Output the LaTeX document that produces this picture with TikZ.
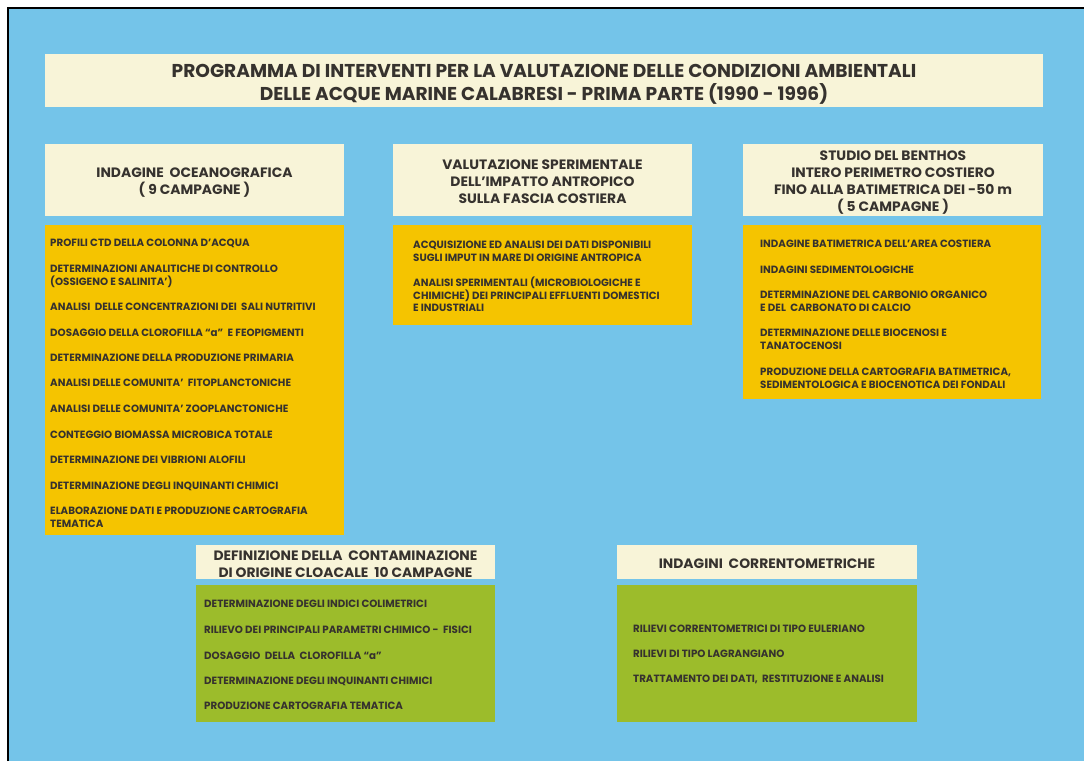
\documentclass[tikz,border=0pt]{standalone}
\usepackage{fontspec}
\setmainfont{Poppins}
\newfontfamily\itemfont{Poppins}[FakeStretch=0.98]
\newfontfamily\headfont{Poppins}[FakeStretch=1.02]
\definecolor{sea}{HTML}{74C4E9}
\definecolor{cream}{HTML}{F8F4D8}
\definecolor{gold}{HTML}{F5C400}
\definecolor{leaf}{HTML}{9CBC2B}
\definecolor{ink}{HTML}{36322E}
\tikzset{
  panel/.style={draw=none, inner sep=0pt, outer sep=0pt, anchor=north west},
  ttl/.style={text=ink, align=center, font=\bfseries\fontsize{18.6}{23}\selectfont},
  hdr/.style={text=ink, align=center, font=\headfont\bfseries\fontsize{13.6}{17}\selectfont},
  item/.style={anchor=base west, inner sep=0pt, yshift=-1pt, text=ink, align=left, font=\itemfont\bfseries\fontsize{10.5}{12.5}\selectfont},
}
\begin{document}
\begin{tikzpicture}[x=1pt,y=-1pt]
\useasboundingbox (0,0) rectangle (1084,761);
\fill[white] (0,0) rectangle (1084,761);
\fill[sea] (8,7.5) rectangle (1084,761);
\draw[black, line width=2.2pt] (8.1,761) -- (8.1,7.6) -- (1084,7.6);

% title
\node[panel, fill=cream, minimum width=998, minimum height=53] (title) at (45,54) {};
\node[ttl] (titletext) at ([yshift=-3.5]title.center) {PROGRAMMA DI INTERVENTI PER LA VALUTAZIONE DELLE CONDIZIONI AMBIENTALI\\DELLE ACQUE MARINE CALABRESI - PRIMA PARTE (1990 - 1996)};

% column 1
\node[panel, fill=cream, minimum width=299, minimum height=72] (h1) at (45,144) {};
\node[hdr] (h1t) at ([yshift=-2.5]h1.center) {INDAGINE \ OCEANOGRAFICA\\( 9 CAMPAGNE )};
\node[panel, fill=gold, minimum width=299, minimum height=310] (b1) at (45,225) {};
\node[item] (a1) at (50,245.5) {PROFILI CTD DELLA COLONNA D’ACQUA};
\node[item] (a2) at (50,284) {DETERMINAZIONI ANALITICHE DI CONTROLLO\\(OSSIGENO E SALINITA’)};
\node[item] (a3) at (50,309.5) {ANALISI \ DELLE CONCENTRAZIONI DEI \ SALI NUTRITIVI};
\node[item] (a4) at (50,335.5) {DOSAGGIO DELLA CLOROFILLA “a” \ E FEOPIGMENTI};
\node[item] (a5) at (50,360.5) {DETERMINAZIONE DELLA PRODUZIONE PRIMARIA};
\node[item] (a6) at (50,385.5) {ANALISI DELLE COMUNITA’ \ FITOPLANCTONICHE};
\node[item] (a7) at (50,411.5) {ANALISI DELLE COMUNITA’ ZOOPLANCTONICHE};
\node[item] (a8) at (50,437.5) {CONTEGGIO BIOMASSA MICROBICA TOTALE};
\node[item] (a9) at (50,462.5) {DETERMINAZIONE DEI VIBRIONI ALOFILI};
\node[item] (a10) at (50,488.5) {DETERMINAZIONE DEGLI INQUINANTI CHIMICI};
\node[item] (a11) at (50,526) {ELABORAZIONE DATI E PRODUZIONE CARTOGRAFIA\\TEMATICA};

% column 2
\node[panel, fill=cream, minimum width=299, minimum height=72] (h2) at (393,144) {};
\node[hdr] (h2t) at ([yshift=-1.5]h2.center) {VALUTAZIONE SPERIMENTALE\\DELL’IMPATTO ANTROPICO\\SULLA FASCIA COSTIERA};
\node[panel, fill=gold, minimum width=299, minimum height=100] (b2) at (393,225) {};
\node[item] (c1) at (413,260) {ACQUISIZIONE ED ANALISI DEI DATI DISPONIBILI\\SUGLI IMPUT IN MARE DI ORIGINE ANTROPICA};
\node[item] (c2) at (413,310.5) {ANALISI SPERIMENTALI (MICROBIOLOGICHE E\\CHIMICHE) DEI PRINCIPALI EFFLUENTI DOMESTICI\\E INDUSTRIALI};

% column 3
\node[panel, fill=cream, minimum width=300, minimum height=72] (h3) at (743,144) {};
\node[hdr] (h3t) at ([yshift=-2.5]h3.center) {STUDIO DEL BENTHOS\\INTERO PERIMETRO COSTIERO\\FINO ALLA BATIMETRICA DEI -50 m\\( 5 CAMPAGNE )};
\node[panel, fill=gold, minimum width=298, minimum height=174] (b3) at (743,225) {};
\node[item] (d1) at (760,246.5) {INDAGINE BATIMETRICA DELL’AREA COSTIERA};
\node[item] (d2) at (760,272.5) {INDAGINI SEDIMENTOLOGICHE};
\node[item] (d3) at (760,310) {DETERMINAZIONE DEL CARBONIO ORGANICO\\E DEL \ CARBONATO DI CALCIO};
\node[item] (d4) at (760,348) {DETERMINAZIONE DELLE BIOCENOSI E\\TANATOCENOSI};
\node[item] (d5) at (760,387) {PRODUZIONE DELLA CARTOGRAFIA BATIMETRICA,\\SEDIMENTOLOGICA E BIOCENOTICA DEI FONDALI};

% lower left
\node[panel, fill=cream, minimum width=299, minimum height=34] (h4) at (196,545) {};
\node[hdr] (h4t) at ([yshift=-2]h4.center) {DEFINIZIONE DELLA \ CONTAMINAZIONE\\DI ORIGINE CLOACALE \ 10 CAMPAGNE};
\node[panel, fill=leaf, minimum width=299, minimum height=137] (b4) at (196,585) {};
\node[item] (e1) at (204,606.5) {DETERMINAZIONE DEGLI INDICI COLIMETRICI};
\node[item] (e2) at (204,632.5) {RILIEVO DEI PRINCIPALI PARAMETRI CHIMICO - \ FISICI};
\node[item] (e3) at (204,658.5) {DOSAGGIO \ DELLA \ CLOROFILLA “a”};
\node[item] (e4) at (204,683.5) {DETERMINAZIONE DEGLI INQUINANTI CHIMICI};
\node[item] (e5) at (204,708.5) {PRODUZIONE CARTOGRAFIA TEMATICA};

% lower right
\node[panel, fill=cream, minimum width=300, minimum height=34] (h5) at (617,545) {};
\node[hdr] (h5t) at ([yshift=-2]h5.center) {INDAGINI \ CORRENTOMETRICHE};
\node[panel, fill=leaf, minimum width=300, minimum height=137] (b5) at (617,585) {};
\node[item] (f1) at (633,631.5) {RILIEVI CORRENTOMETRICI DI TIPO EULERIANO};
\node[item] (f2) at (633,656.5) {RILIEVI DI TIPO LAGRANGIANO};
\node[item] (f3) at (633,681.5) {TRATTAMENTO DEI DATI, \ RESTITUZIONE E ANALISI};
\end{tikzpicture}
\end{document}
